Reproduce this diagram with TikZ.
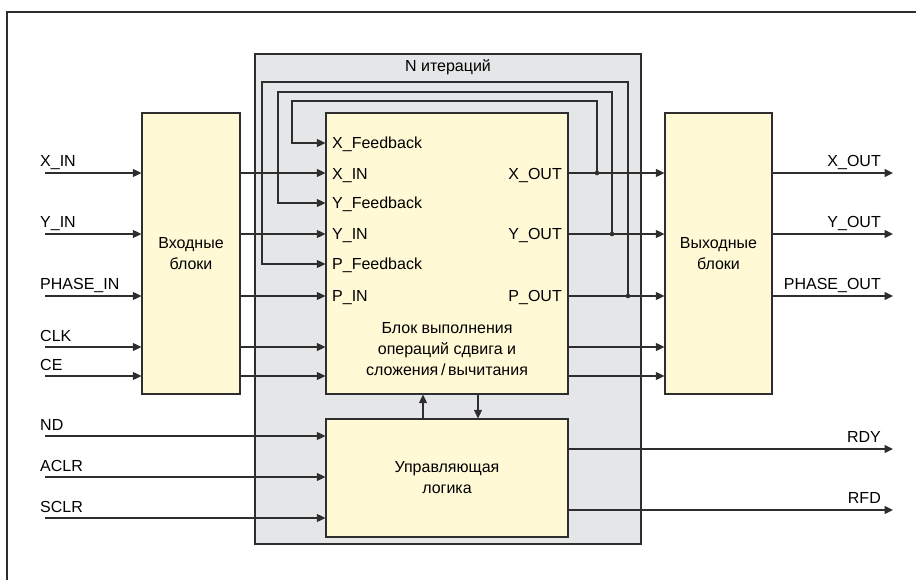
\documentclass[tikz,border=0pt]{standalone}
\usepackage{fontspec}
\setmainfont{Liberation Sans}
\usepackage{xcolor}
\usetikzlibrary{
    arrows.meta,
    positioning
}
\definecolor{linec}{HTML}{2E2E2E}
\definecolor{yelc}{HTML}{FFF9D6}
\definecolor{grayc}{HTML}{E5E6E8}

\begin{document}
\begin{tikzpicture}[x=1pt, y=-1pt, font=\fontsize{16}{21}\selectfont,
    blk/.style={draw=linec, fill=yelc, line width=1.2pt, align=center, inner sep=0pt},
    port/.style={inner sep=0pt, text height=11.4pt, text depth=0pt},
    sig/.style={draw=linec, line width=1.1pt, -{Triangle[length=8.5pt, width=8pt]}},
    wire/.style={draw=linec, line width=1.1pt}]
    \useasboundingbox (0,0) rectangle (916,580);
    \draw[wire] (7,580) -- (7,12) -- (916,12);

    % iteration frame and blocks
    \node[draw=linec, fill=grayc, line width=1.2pt, minimum width=386pt, minimum height=490pt] (iter) at (448,299) {};
    \node[port, anchor=north] (itxt) at (448,60) {N итераций};

    \node[blk, minimum width=98pt, minimum height=281pt] (inb) at (191,253.5) {Входные\\блоки};
    \node[blk, minimum width=242pt, minimum height=281pt] (main) at (447,253.5) {};
    \node[blk, minimum width=107pt, minimum height=281pt] (outb) at (718.5,253.5) {Выходные\\блоки};
    \node[blk, minimum width=242pt, minimum height=118pt] (ctrl) at (447,478) {Управляющая\\логика};
    \node[align=center, inner sep=0pt] (mtxt) at (447,349) {Блок выполнения\\операций сдвига и\\сложения\,/\,вычитания};

    % ports of the main block
    \node[port, anchor=west] (pxf) at (332,143) {X\_Feedback};
    \node[port, anchor=west] (pxi) at (332,174) {X\_IN};
    \node[port, anchor=west] (pyf) at (332,203) {Y\_Feedback};
    \node[port, anchor=west] (pyi) at (332,234) {Y\_IN};
    \node[port, anchor=west] (ppf) at (332,264) {P\_Feedback};
    \node[port, anchor=west] (ppi) at (332,296) {P\_IN};
    \node[port, anchor=east] (pxo) at (562,174) {X\_OUT};
    \node[port, anchor=east] (pyo) at (562,234) {Y\_OUT};
    \node[port, anchor=east] (ppo) at (562,296) {P\_OUT};

    % input signals
    \coordinate (sxin) at (45,173);
    \coordinate (syin) at (45,234);
    \coordinate (spin) at (45,296);
    \coordinate (sclk) at (45,347);
    \coordinate (sce) at (45,376);
    \coordinate (snd) at (45,436);
    \coordinate (saclr) at (45,477);
    \coordinate (ssclr) at (45,518);
    \node[anchor=base west, inner sep=0pt] (lxin) at (40,167) {X\_IN};
    \node[anchor=base west, inner sep=0pt] (lyin) at (40,228) {Y\_IN};
    \node[anchor=base west, inner sep=0pt] (lpin) at (40,290) {PHASE\_IN};
    \node[anchor=base west, inner sep=0pt] (lclk) at (40,341) {CLK};
    \node[anchor=base west, inner sep=0pt] (lce) at (40,370) {CE};
    \node[anchor=base west, inner sep=0pt] (lnd) at (40,430) {ND};
    \node[anchor=base west, inner sep=0pt] (laclr) at (40,471) {ACLR};
    \node[anchor=base west, inner sep=0pt] (lsclr) at (40,512) {SCLR};

    % output signals
    \coordinate (exout) at (893,173);
    \coordinate (eyout) at (893,234);
    \coordinate (epout) at (893,296);
    \coordinate (erdy) at (893,449);
    \coordinate (erfd) at (893,510);
    \node[anchor=base east, inner sep=0pt] (lxout) at (881,167) {X\_OUT};
    \node[anchor=base east, inner sep=0pt] (lyout) at (881,228) {Y\_OUT};
    \node[anchor=base east, inner sep=0pt] (lpout) at (881,290) {PHASE\_OUT};
    \node[anchor=base east, inner sep=0pt] (lrdy) at (881,442) {RDY};
    \node[anchor=base east, inner sep=0pt] (lrfd) at (881,503) {RFD};

    \draw[sig] (sxin) -- (inb.west |- sxin);
    \draw[sig] (syin) -- (inb.west |- syin);
    \draw[sig] (spin) -- (inb.west |- spin);
    \draw[sig] (sclk) -- (inb.west |- sclk);
    \draw[sig] (sce) -- (inb.west |- sce);
    \draw[sig] (inb.east |- sxin) -- (main.west |- sxin);
    \draw[sig] (inb.east |- syin) -- (main.west |- syin);
    \draw[sig] (inb.east |- spin) -- (main.west |- spin);
    \draw[sig] (inb.east |- sclk) -- (main.west |- sclk);
    \draw[sig] (inb.east |- sce) -- (main.west |- sce);

    \draw[sig] (main.east |- exout) -- (outb.west |- exout);
    \draw[sig] (main.east |- eyout) -- (outb.west |- eyout);
    \draw[sig] (main.east |- epout) -- (outb.west |- epout);
    \draw[sig] (main.east |- sclk) -- (outb.west |- sclk);
    \draw[sig] (main.east |- sce) -- (outb.west |- sce);
    \draw[sig] (outb.east |- exout) -- (exout);
    \draw[sig] (outb.east |- eyout) -- (eyout);
    \draw[sig] (outb.east |- epout) -- (epout);

    \draw[sig] (snd) -- (ctrl.west |- snd);
    \draw[sig] (saclr) -- (ctrl.west |- saclr);
    \draw[sig] (ssclr) -- (ctrl.west |- ssclr);
    \draw[sig] (ctrl.east |- erdy) -- (erdy);
    \draw[sig] (ctrl.east |- erfd) -- (erfd);

    % feedback loops
    \coordinate (jx) at (597,173);
    \coordinate (jy) at (612,234);
    \coordinate (jp) at (628,296);
    \coordinate (tx) at (292,101);
    \coordinate (ty) at (278,92);
    \coordinate (tp) at (262,82);
    \draw[sig] (jx) |- (tx) |- (main.west |- pxf);
    \draw[sig] (jy) |- (ty) |- (main.west |- pyf);
    \draw[sig] (jp) |- (tp) |- (main.west |- ppf);
    \fill[linec] (jx) circle (2.3);
    \fill[linec] (jy) circle (2.3);
    \fill[linec] (jp) circle (2.3);

    % control handshake
    \coordinate (up) at (423,0);
    \coordinate (dn) at (478,0);
    \draw[sig] (ctrl.north -| up) -- (main.south -| up);
    \draw[sig] (main.south -| dn) -- (ctrl.north -| dn);
\end{tikzpicture}
\end{document}
